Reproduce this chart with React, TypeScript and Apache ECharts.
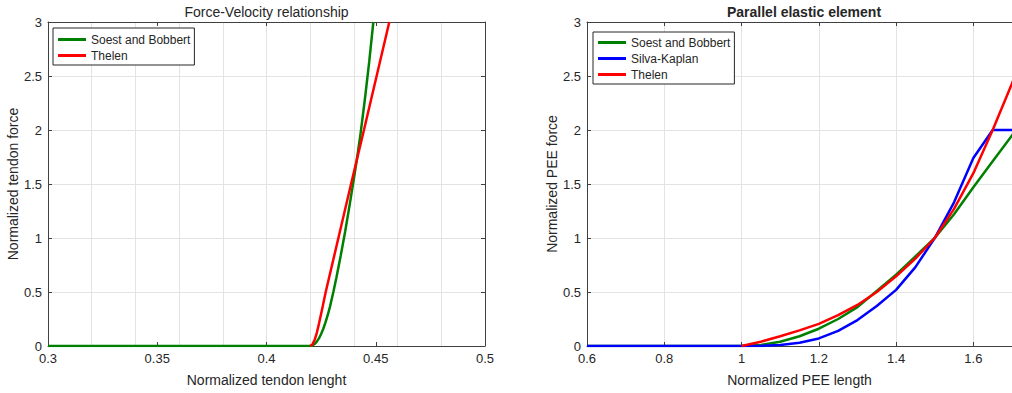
import React, { useEffect, useRef } from "react";
import * as echarts from "echarts";

// ---- Data ----
const tendonTicks = { min: 0.3, max: 0.5, labelStep: 0.05, gridStep: 0.02 };
const peeTicks = { min: 0.6, max: 1.7, step: 0.2 };
const forceTicks = { min: 0, max: 3, step: 0.5 };

const tendonSoest: [number, number][] = [
  [0.3, 0], [0.42, 0], [0.421, 0.0045], [0.422, 0.018], [0.423, 0.04], [0.424, 0.071],
  [0.425, 0.111], [0.426, 0.16], [0.427, 0.218], [0.428, 0.285], [0.429, 0.36],
  [0.4306, 0.5], [0.432, 0.635], [0.434, 0.84], [0.436, 1.06], [0.438, 1.3],
  [0.44, 1.55], [0.4413, 1.72], [0.443, 1.96], [0.445, 2.28], [0.447, 2.63], [0.4489, 3.0],
];
const tendonThelen: [number, number][] = [
  [0.42, 0], [0.421, 0.015], [0.422, 0.055], [0.423, 0.12], [0.424, 0.205],
  [0.4255, 0.345], [0.4271, 0.5], [0.4329, 1.0], [0.4387, 1.5], [0.4446, 2.0],
  [0.4504, 2.5], [0.4562, 3.0],
];

const peeSoest: [number, number][] = [
  [0.6, 0], [1.0, 0], [1.05, 0.01], [1.1, 0.04], [1.15, 0.09], [1.2, 0.16], [1.25, 0.25],
  [1.3, 0.36], [1.35, 0.51], [1.4, 0.66], [1.45, 0.83], [1.5, 1.0], [1.55, 1.22],
  [1.6, 1.47], [1.65, 1.71], [1.7, 1.95], [1.75, 2.2],
];
const peeSilva: [number, number][] = [
  [0.6, 0], [1.0, 0], [1.05, 0.001], [1.1, 0.009], [1.15, 0.03], [1.2, 0.07], [1.25, 0.14],
  [1.3, 0.24], [1.35, 0.37], [1.4, 0.52], [1.45, 0.73], [1.5, 1.0], [1.55, 1.33],
  [1.6, 1.74], [1.65, 2.0], [1.75, 2.0],
];
const peeThelen: [number, number][] = [
  [1.0, 0], [1.05, 0.04], [1.1, 0.09], [1.15, 0.145], [1.2, 0.205], [1.25, 0.285],
  [1.3, 0.38], [1.35, 0.5], [1.4, 0.645], [1.45, 0.81], [1.5, 1.0], [1.55, 1.27],
  [1.6, 1.6], [1.65, 2.0], [1.7, 2.43], [1.75, 2.9],
];

const legendLeft = ["Soest and Bobbert", "Thelen"];
const legendRight = ["Soest and Bobbert", "Silva-Kaplan", "Thelen"];

const FONT = "'Liberation Sans', Arial, Helvetica, sans-serif";
const AXIS = "#404040";
const TEXT = "#262626";
const GRIDC = "#e3e3e3";
const GREEN = "#008000";
const RED = "#ff0000";
const BLUE = "#0000ff";

export default function App() {
  const ref = useRef<HTMLDivElement>(null);
  useEffect(() => {
    if (!ref.current) return;
    const chart = echarts.init(ref.current, undefined, { renderer: "svg" });

    const G0 = { left: 48, top: 22, width: 437, height: 324 };
    const G1 = { left: 587, top: 22, width: 425, height: 324 };

    const labelStyle = { color: TEXT, fontSize: 13, fontFamily: FONT };
    const nameStyle = { color: TEXT, fontSize: 14, fontFamily: FONT };
    const lineStyle = { color: AXIS, width: 1 };

    const mainX = (gi: number, min: number, max: number, interval: number, name: string, hideMax: boolean) => ({
      type: "value", gridIndex: gi, min, max, interval, position: "bottom",
      name, nameLocation: "middle", nameGap: 27, nameTextStyle: nameStyle,
      axisLine: { show: true, onZero: false, lineStyle },
      axisTick: { show: true, inside: true, length: 4, lineStyle },
      axisLabel: { ...labelStyle, margin: 6, showMaxLabel: !hideMax },
      splitLine: { show: false },
    });
    const gridX = (gi: number, min: number, max: number, interval: number) => ({
      type: "value", gridIndex: gi, min, max, interval, position: "bottom",
      axisLine: { show: false }, axisTick: { show: false }, axisLabel: { show: false },
      splitLine: { show: true, lineStyle: { color: GRIDC, width: 1 } },
    });
    const topX = (gi: number, min: number, max: number, interval: number) => ({
      type: "value", gridIndex: gi, min, max, interval, position: "top",
      axisLine: { show: true, onZero: false, lineStyle },
      axisTick: { show: true, inside: true, length: 4, lineStyle },
      axisLabel: { show: false }, splitLine: { show: false },
    });
    const leftY = (gi: number, name: string) => ({
      type: "value", gridIndex: gi, min: forceTicks.min, max: forceTicks.max, interval: forceTicks.step,
      position: "left", name, nameLocation: "middle", nameGap: 27, nameTextStyle: nameStyle,
      axisLine: { show: true, onZero: false, lineStyle },
      axisTick: { show: true, inside: true, length: 4, lineStyle },
      axisLabel: { ...labelStyle, margin: 6 },
      splitLine: { show: true, lineStyle: { color: GRIDC, width: 1 } },
    });
    const rightY = (gi: number) => ({
      type: "value", gridIndex: gi, min: forceTicks.min, max: forceTicks.max, interval: forceTicks.step,
      position: "right",
      axisLine: { show: true, onZero: false, lineStyle },
      axisTick: { show: true, inside: true, length: 4, lineStyle },
      axisLabel: { show: false }, splitLine: { show: false },
    });

    const line = (name: string, data: [number, number][], color: string, xi: number, yi: number, z: number) => ({
      type: "line", name, data, xAxisIndex: xi, yAxisIndex: yi, showSymbol: false, symbol: "none",
      lineStyle: { color, width: 2.5 }, itemStyle: { color }, z, clip: true,
    });

    const legendBase = {
      orient: "vertical", icon: "rect", itemWidth: 28, itemHeight: 3, itemGap: 1,
      backgroundColor: "#ffffff", borderColor: TEXT, borderWidth: 1, borderRadius: 0,
      textStyle: { color: TEXT, fontSize: 12, fontFamily: FONT, lineHeight: 15 },
      selectedMode: false,
    };

    chart.setOption({
      animation: false,
      backgroundColor: "#ffffff",
      grid: [
        { ...G0, containLabel: false },
        { ...G1, containLabel: false },
      ],
      xAxis: [
        mainX(0, tendonTicks.min, tendonTicks.max, tendonTicks.labelStep, "Normalized tendon lenght", false),
        gridX(0, tendonTicks.min, tendonTicks.max, tendonTicks.gridStep),
        topX(0, tendonTicks.min, tendonTicks.max, tendonTicks.labelStep),
        mainX(1, peeTicks.min, peeTicks.max, peeTicks.step, "Normalized PEE length", true),
        gridX(1, peeTicks.min, peeTicks.max, peeTicks.step),
        topX(1, peeTicks.min, peeTicks.max, peeTicks.step),
      ],
      yAxis: [
        leftY(0, "Normalized tendon force"),
        rightY(0),
        leftY(1, "Normalized PEE force"),
      ],
      legend: [
        { ...legendBase, data: legendLeft, left: 53, top: 28, padding: [4, 4, 2, 5] },
        { ...legendBase, data: legendRight, left: 593, top: 32, padding: [3, 4, 2, 5] },
      ],
      graphic: [
        {
          type: "text", x: G0.left + G0.width / 2, y: 12,
          style: { text: "Force-Velocity relationship", fill: TEXT, font: `14px ${FONT}`, textAlign: "center", verticalAlign: "middle" },
        },
        {
          type: "text", x: 804, y: 12,
          style: { text: "Parallel elastic element", fill: TEXT, font: `bold 14px ${FONT}`, textAlign: "center", verticalAlign: "middle" },
        },
      ],
      series: [
        line("Soest and Bobbert", tendonSoest, GREEN, 0, 0, 2),
        line("Thelen", tendonThelen, RED, 0, 0, 3),
        line("Soest and Bobbert", peeSoest, GREEN, 3, 2, 2),
        line("Silva-Kaplan", peeSilva, BLUE, 3, 2, 3),
        line("Thelen", peeThelen, RED, 3, 2, 4),
      ],
    });
    return () => chart.dispose();
  }, []);

  return (
    <div
      ref={ref}
      style={{ position: "fixed", left: 0, top: 0, width: 1012, height: 393, background: "#fff" }}
    />
  );
}
